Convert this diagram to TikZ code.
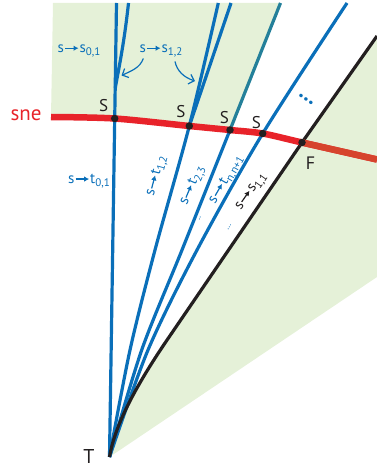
\documentclass[tikz,border=0pt]{standalone}
\usepackage{fontspec}
\setmainfont{PT Sans}
\usetikzlibrary{arrows.meta}
\definecolor{lblue}{HTML}{0A6FB9}
\definecolor{lgreen}{HTML}{E5F1D8}
\definecolor{lred}{HTML}{E8232A}
\definecolor{lorange}{HTML}{D6442D}
\definecolor{lteal}{HTML}{24809A}
\definecolor{ink}{HTML}{231F20}
\newcommand{\myar}{\hspace{0.5pt}\tikz[baseline=-0.55ex]\draw[line width=1.2pt,-{Latex[length=5pt,width=5.5pt]}] (0pt,0pt) -- (0.9em,0pt);\hspace{0.5pt}}
\newcommand{\sbx}[1]{\raisebox{-0.45ex}{\fontsize{11}{11}\selectfont #1}}
\tikzset{
  bline/.style={draw=lblue, line width=3.2pt},
  kline/.style={draw=ink, line width=3.2pt},
  rline/.style={line width=6.5pt},
  dotn/.style={circle, fill=ink, inner sep=0pt, minimum size=7.5pt},
  lab/.style={text=ink, inner sep=0pt, font=\fontsize{17}{17}\selectfont},
  blab/.style={text=lblue, inner sep=0pt, font=\fontsize{15}{15}\selectfont},
  klab/.style={text=ink, inner sep=0pt, font=\fontsize{15}{15}\selectfont},
  callout/.style={draw=lblue, line width=1.2pt, -{Straight Barb[length=5pt,width=10pt]}},
}
\begin{document}
\begin{tikzpicture}[x=1pt,y=-1pt]
\useasboundingbox (0,0) rectangle (377,468);
% key points
\coordinate (T) at (109.5,457);
\coordinate (S1) at (114.7,118.5);
\coordinate (S2) at (189.3,126);
\coordinate (S3) at (230,130);
\coordinate (S4) at (262.7,133.5);
\coordinate (F) at (302,142.5);
\coordinate (sneL) at (51,117);
\coordinate (redR) at (377,159.5);
\coordinate (top1) at (116.5,3);
\coordinate (top1b) at (128.5,3);
\coordinate (m1b) at (115.3,88);
\coordinate (top2) at (218.3,3);
\coordinate (top2b) at (231,3);
\coordinate (top3) at (280.5,3);
\coordinate (top4) at (347,3);
\coordinate (Bmid) at (165,343);
\coordinate (Btop) at (377,36);
% green regions
\fill[lgreen] (53,3) -- (top3) -- (S3) -- plot[smooth] coordinates {(S3) (S2) (S1) (sneL)} -- cycle;
\fill[lgreen] (T) .. controls (114,430) and (130,395) .. (Bmid) -- (F) -- (Btop) -- (377,277) -- cycle;
% blue lines
\draw[bline] (T) -- (top1);
\draw[bline] (top1b) .. controls (124,45) and (118,72) .. (m1b);
\draw[bline] plot[smooth] coordinates {(T) (130,350) (155,250) (S2) (top2)};
\draw[bline] (top2b) -- (S2);
\draw[bline] plot[smooth] coordinates {(T) (141.7,350) (182,250) (S3)};
\draw[line width=3.2pt, draw=lteal] (S3) -- (top3);
\draw[bline] plot[smooth] coordinates {(T) (148,350) (197,250) (S4) (top4)};
% black line
\draw[kline] (T) .. controls (114,430) and (130,395) .. (Bmid) -- (F) -- (Btop);
% red curve
\draw[rline, draw=lred] plot[smooth] coordinates {(sneL) (S1) (S2) (S3) (S4) (F) (redR)};
\begin{scope}
\clip (300,0) rectangle (377,468);
\draw[rline, draw=lorange] plot[smooth] coordinates {(sneL) (S1) (S2) (S3) (S4) (F) (redR)};
\end{scope}
% dots
\node[dotn] (d1) at (S1) {};
\node[dotn] (d2) at (S2) {};
\node[dotn] (d3) at (S3) {};
\node[dotn] (d4) at (S4) {};
\node[dotn] (dF) at (F) {};
% labels
\node[lab] (lS1) at (103.7,106) {S};
\node[lab] (lS2) at (181,112) {S};
\node[lab] (lS3) at (224.5,117.5) {S};
\node[lab] (lS4) at (256.5,123) {S};
\node[lab, font=\fontsize{18}{18}\selectfont] (lF) at (310.5,163.3) {F};
\node[lab, font=\fontsize{20}{20}\selectfont] (lT) at (89,456) {T};
\node[text=lred, inner sep=0pt, font=\fontsize{21}{21}\selectfont] (lsne) at (26,115.5) {sne};
\node[blab] (s01) at (79,51) {s\myar s\sbx{0,1}};
\node[blab] (s12) at (161,51) {s\myar s\sbx{1,2}};
\node[blab] (t01) at (89,181) {s\myar t\sbx{0,1}};
\node[blab, rotate=75] (t12) at (157,176) {s\myar t\sbx{1,2}};
\node[blab, rotate=67] (t23) at (193,186) {s\myar t\sbx{2,3}};
\node[blab, rotate=60] (tnn) at (226.5,180) {s\myar t\sbx{n,n+1}};
\node[klab, rotate=55] (s11) at (252,192) {s\myar s\sbx{1,1}};
\node[text=lblue, inner sep=0pt, rotate=67, font=\fontsize{9}{9}\selectfont] (dd1) at (200,218.5) {..};
\node[text=lblue, inner sep=0pt, rotate=60, font=\fontsize{9}{9}\selectfont] (dd2) at (229.5,227) {…};
\node[text=lblue, inner sep=0pt, rotate=-35, font=\fontsize{22}{22}\selectfont\bfseries] (bigdots) at (306,99) {…};
% callout arrows
\coordinate (c1s) at (143.3,58.5);
\coordinate (c1e) at (121.5,75.5);
\coordinate (c2s) at (175,61.5);
\coordinate (c2e) at (195,81);
\draw[callout] (c1s) .. controls (140,68) and (131,71) .. (c1e);
\draw[callout] (c2s) .. controls (177,71) and (184,77.5) .. (c2e);
\end{tikzpicture}
\end{document}
